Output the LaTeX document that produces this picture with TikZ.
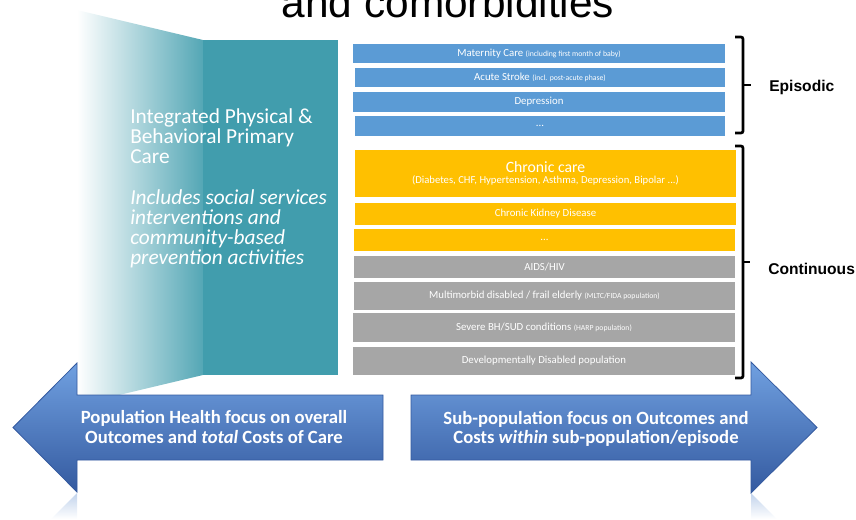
\documentclass[tikz,border=0pt]{standalone}
\usepackage{fontspec}
\setmainfont{Carlito}
\newfontfamily\arialfont{Liberation Sans}
\usetikzlibrary{positioning}
\definecolor{CareTeal}{RGB}{65,157,173}
\definecolor{EpisodeBlue}{RGB}{91,155,213}
\definecolor{ChronicOrange}{RGB}{255,192,0}
\definecolor{CohortGrey}{RGB}{166,166,166}
\definecolor{FocusBlue}{RGB}{79,129,200}
\definecolor{FocusLight}{RGB}{112,160,224}
\definecolor{FocusDark}{RGB}{52,90,160}
\tikzset{
	bar/.style={
		rectangle,
		inner sep=0pt,
		text=white,
		align=center,
		font=\fontsize{8.1}{9}\selectfont
	},
	episode/.style={bar, fill=EpisodeBlue},
	chronic/.style={bar, fill=ChronicOrange},
	cohort/.style={bar, fill=CohortGrey},
	bracket/.style={line width=2pt, rounded corners=1.5pt},
	group/.style={anchor=base west, inner sep=0pt, font=\arialfont\bfseries\fontsize{11.7}{13}\selectfont},
	focus/.style={inner sep=0pt, text=white, align=center, font=\bfseries\fontsize{14}{14.3}\selectfont}
}
\newcommand{\barnote}[1]{{\fontsize{5.8}{6.5}\selectfont #1}}

\begin{document}
\begin{tikzpicture}[x=0.75pt, y=-0.75pt]
			\useasboundingbox (0,0) rectangle (856,519);
			\clip (0,0) rectangle (856,519);
			
			% primary care column
			\shade[left color=white, right color=CareTeal!90!white] (77,10) -- (203,40) -- (203,375) -- (77,405) -- cycle;
			\draw node[fill=CareTeal, inner sep=0pt, minimum width=101.25pt, minimum height=251pt](CareColumn) at (270.5,207.5){};
			\draw node[anchor=north west, inner sep=0pt, align=left, text=white, font=\fontsize{16}{15.2}\selectfont](PrimaryCare) at (130,108){Integrated Physical \&\\Behavioral Primary\\Care\\[15.2pt]\textit{Includes social services}\\\textit{interventions and}\\\textit{community-based}\\\textit{prevention activities}};
			
			% focus arrows and their reflections
			\shade[top color=FocusBlue!35!white, bottom color=white] (77,493) -- (51,519) -- (77,519) -- cycle;
			\shade[top color=FocusBlue!35!white, bottom color=white] (751,493) -- (777,519) -- (751,519) -- cycle;
			\shade[top color=FocusLight, middle color=FocusBlue, bottom color=FocusDark, draw=FocusDark, line width=0.6pt] (383,395) -- (77,395) -- (77,363) -- (13,427.5) -- (77,492) -- (77,460) -- (383,460) -- cycle;
			\shade[top color=FocusLight, middle color=FocusBlue, bottom color=FocusDark, draw=FocusDark, line width=0.6pt] (411,395) -- (751,395) -- (751,362) -- (817,427.5) -- (751,493) -- (751,460) -- (411,460) -- cycle;
			\draw node[focus](PopulationFocus) at (214,427){Population Health focus on overall\\Outcomes and \textit{total} Costs of Care};
			\draw node[focus](SubFocus) at (596,429){Sub-population focus on Outcomes and\\Costs \textit{within} sub-population/episode};
			
			% episodic bars
			\draw node[episode, minimum width=279pt, minimum height=14pt](Maternity) at (539,53.3){Maternity Care \barnote{(including first month of baby)}};
			\draw node[episode, minimum width=277.5pt, minimum height=14.25pt](AcuteStroke) at (540,77.2){Acute Stroke \barnote{(incl. post-acute phase)}};
			\draw node[episode, minimum width=279pt, minimum height=15pt](Depression) at (539,102){Depression};
			\draw node[episode, minimum width=277.5pt, minimum height=15pt](EpisodeMore) at (540,126){...};
			
			% continuous bars
			\draw node[chronic, minimum width=285.75pt, minimum height=35pt](ChronicCare) at (545.5,173.4){{\fontsize{11.8}{12}\selectfont Chronic care}\\[-1pt]{\fontsize{8}{9}\selectfont (Diabetes, CHF, Hypertension, Asthma, Depression, Bipolar ...)}};
			\draw node[chronic, minimum width=285.75pt, minimum height=16.7pt](Kidney) at (545.5,213.9){Chronic Kidney Disease};
			\draw node[chronic, minimum width=285.75pt, minimum height=16.3pt](ChronicMore) at (544.5,240){...};
			\draw node[cohort, minimum width=285.75pt, minimum height=16.5pt](AidsHiv) at (544.5,266.7){AIDS/HIV};
			\draw node[cohort, minimum width=285.75pt, minimum height=21.2pt](Multimorbid) at (544.5,296){Multimorbid disabled / frail elderly \barnote{(MLTC/FIDA population)}};
			\draw node[cohort, minimum width=286.5pt, minimum height=21.75pt](SevereBH) at (544,327.2){Severe BH/SUD conditions \barnote{(HARP population)}};
			\draw node[cohort, minimum width=286.5pt, minimum height=21pt](DevDisabled) at (544,361){Developmentally Disabled population};
			
			% brackets
			\draw[bracket] (735,37) -| (743,133) -- (735,133);
			\draw[bracket] (743,85) -- (751,85);
			\draw[bracket] (735,146) -| (743,378) -- (735,378);
			\draw[bracket] (743,262) -- (750,262);
			\draw node[group](Episodic) at (769,91){Episodic};
			\draw node[group](Continuous) at (768,274){Continuous};
			
			\draw node[anchor=base, inner sep=0pt, font=\arialfont\fontsize{31.8}{36}\selectfont](Title) at (448,17.3){and comorbidities};
		\end{tikzpicture}
\end{document}
